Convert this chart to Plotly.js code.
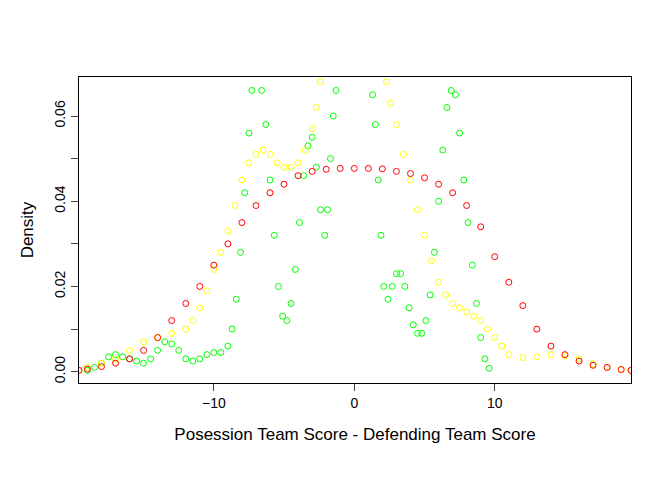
<!DOCTYPE html>
<html>
<head>
<meta charset="utf-8">
<script src="https://cdn.plot.ly/plotly-3.0.1.min.js"></script>
<style>body{margin:0;background:#fff}</style>
</head>
<body>
<div id="chart" style="width:672px;height:480px"></div>
<script>
// Density curves

var redX = [-19.6, -19, -18, -17, -16, -15, -14, -13, -12, -11, -10, -9, -8, -7, -6, -5, -4, -3, -2, -1, 0,
  1, 2, 3, 4, 5, 6, 7, 8, 9, 10, 11, 12, 13, 14, 15, 16, 17, 18, 19, 19.7];
var redY = [0.0003, 0.0006, 0.0012, 0.002, 0.003, 0.005, 0.008, 0.012, 0.016, 0.020, 0.025, 0.030, 0.035, 0.039, 0.042, 0.044, 0.046, 0.047, 0.0475, 0.0477, 0.0477,
  0.0477, 0.0476, 0.047, 0.0465, 0.0455, 0.044, 0.042, 0.039, 0.034, 0.027, 0.021, 0.0155, 0.010, 0.006, 0.004, 0.0025, 0.0015, 0.001, 0.0005, 0.0003];

var yelX = [-19.6, -19, -18, -17, -16, -15, -14, -13, -12, -11.5, -11, -10.5, -10, -9.5, -9, -8.5, -8, -7.5, -7, -6.5, -6, -5.5, -5, -4.5, -4, -3.5, -3, -2.7, -2.4,
  2.3, 2.6, 3, 3.5, 4, 4.5, 5, 5.5, 6, 6.5, 7, 7.5, 8, 8.5, 9, 9.5, 10, 10.5, 11, 12, 13, 14, 15, 16, 17, 18, 19, 19.7];
var yelY = [0.0003, 0.001, 0.002, 0.003, 0.005, 0.007, 0.008, 0.009, 0.010, 0.012, 0.015, 0.019, 0.024, 0.028, 0.033, 0.039, 0.045, 0.049, 0.051, 0.052, 0.051, 0.049, 0.048, 0.048, 0.049, 0.052, 0.057, 0.062, 0.068,
  0.068, 0.063, 0.058, 0.051, 0.045, 0.038, 0.032, 0.026, 0.021, 0.018, 0.016, 0.015, 0.014, 0.013, 0.012, 0.010, 0.008, 0.006, 0.004, 0.0033, 0.0035, 0.004, 0.0037, 0.003, 0.0018, 0.001, 0.0005, 0.0003];

var grnX = [-19, -18.5, -18, -17.5, -17, -16.5, -16, -15.5, -15, -14.5, -14, -13.5, -13, -12.5, -12, -11.5, -11, -10.5, -10, -9.5, -9, -8.7, -8.4, -8.1, -7.8, -7.5, -7.3,
  -6.6, -6.3, -6, -5.7, -5.4, -5.1, -4.8, -4.5, -4.2, -3.9, -3.6, -3.3, -3, -2.7, -2.4, -2.1, -1.9, -1.7, -1.5, -1.3,
  1.3, 1.5, 1.7, 1.9, 2.1, 2.4, 2.7, 3, 3.3, 3.6, 3.9, 4.2, 4.5, 4.8, 5.1, 5.4, 5.7, 6, 6.3, 6.6, 6.9, 7.2, 7.5, 7.8, 8.1, 8.4, 8.7, 9, 9.3, 9.6];
var grnY = [0.0003, 0.001, 0.002, 0.0035, 0.004, 0.0035, 0.003, 0.0025, 0.002, 0.003, 0.005, 0.007, 0.0065, 0.005, 0.003, 0.0025, 0.003, 0.004, 0.0045, 0.0045, 0.006, 0.010, 0.017, 0.028, 0.042, 0.056, 0.066,
  0.066, 0.058, 0.045, 0.032, 0.020, 0.013, 0.012, 0.016, 0.024, 0.035, 0.046, 0.053, 0.055, 0.048, 0.038, 0.032, 0.038, 0.050, 0.060, 0.066,
  0.065, 0.058, 0.045, 0.032, 0.020, 0.017, 0.020, 0.023, 0.023, 0.020, 0.015, 0.011, 0.009, 0.009, 0.012, 0.018, 0.028, 0.040, 0.052, 0.062, 0.066, 0.065, 0.056, 0.045, 0.035, 0.025, 0.016, 0.008, 0.003, 0.0008];

function curve(x, y, color) {
  return {
    x: x,
    y: y,
    type: 'scatter',
    mode: 'markers',
    hoverinfo: 'none',
    marker: {
      symbol: 'circle-open',
      size: 6,
      color: color,
      line: { width: 1, color: color }
    }
  };
}

var data = [
  curve(grnX, grnY, '#00ff00'),
  curve(yelX, yelY, '#ffff00'),
  curve(redX, redY, '#ff0000')
];

var layout = {
  width: 672,
  height: 480,
  font: { family: 'Liberation Sans, Arial, sans-serif', size: 14, color: '#000000' },
  showlegend: false,
  paper_bgcolor: '#ffffff',
  plot_bgcolor: '#ffffff',
  margin: { l: 79, r: 41, t: 77, b: 97 },
  xaxis: {
    range: [-19.6, 19.7],
    tickvals: [-10, 0, 10],
    ticks: 'outside',
    ticklen: 7,
    showgrid: false,
    zeroline: false,
    showline: true,
    mirror: true,
    linecolor: '#000000',
    title: { text: 'Posession Team Score - Defending Team Score', standoff: 18 }
  },
  yaxis: {
    range: [-0.00266, 0.06916],
    tickvals: [0, 0.01, 0.02, 0.03, 0.04, 0.05, 0.06],
    ticktext: ['0.00', '', '0.02', '', '0.04', '', '0.06'],
    tickangle: -90,
    ticks: 'outside',
    ticklen: 7,
    showgrid: false,
    zeroline: false,
    showline: true,
    mirror: true,
    linecolor: '#000000',
    title: { text: 'Density', standoff: 14 }
  }
};

Plotly.newPlot('chart', data, layout, { staticPlot: true });
</script>
</body>
</html>
